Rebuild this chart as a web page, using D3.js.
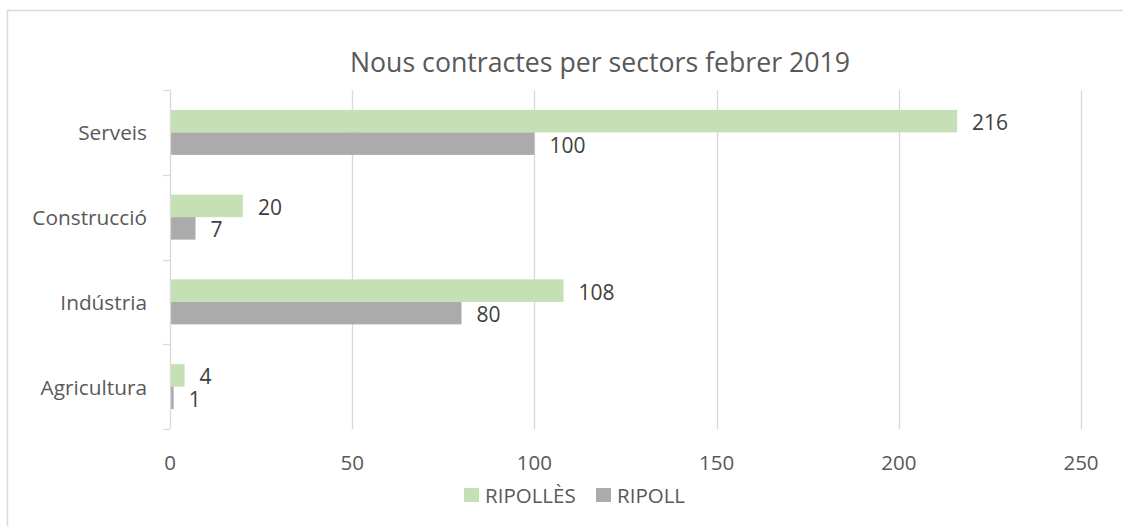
<!DOCTYPE html>
<html>
<head>
<meta charset="utf-8">
<script src="https://cdn.jsdelivr.net/npm/d3@7"></script>
<style>
  html, body { margin: 0; padding: 0; background: #fff; }
  svg { display: block; font-family: "Open Sans", "Noto Sans", sans-serif; }
</style>
</head>
<body>
<svg id="chart" width="1123" height="526"></svg>
<script>
const title = "Nous contractes per sectors febrer 2019";
const categories = ["Serveis", "Construcció", "Indústria", "Agricultura"];
const seriesNames = ["RIPOLLÈS", "RIPOLL"];
const ripolles = [216, 20, 108, 4];
const ripoll = [100, 7, 80, 1];
const xTicks = [0, 50, 100, 150, 200, 250];
const colors = ["#c5e0b4", "#ababab"];

const seriesValues = [ripolles, ripoll];
const svg = d3.select("#chart");

// outer frame
svg.append("rect")
  .attr("x", 7.5).attr("y", 10.5)
  .attr("width", 1130).attr("height", 530)
  .attr("fill", "#fff").attr("stroke", "#d9d9d9").attr("stroke-width", 1.5);

const plot = { left: 170, right: 1081, top: 90, bottom: 429 };

const x = d3.scaleLinear().domain([0, 250]).range([plot.left, plot.right]);
const pad = 1 - 45 / ((plot.bottom - plot.top) / categories.length);
const y = d3.scaleBand().domain(categories)
  .range([plot.top, plot.bottom]).paddingInner(pad).paddingOuter(pad / 2);
const yInner = d3.scaleBand().domain(seriesNames).range([0, y.bandwidth()]);

// gridlines
svg.append("g").selectAll("line")
  .data(xTicks.filter(d => d !== 0))
  .join("line")
  .attr("x1", d => Math.round(x(d)) + 0.5).attr("x2", d => Math.round(x(d)) + 0.5)
  .attr("y1", plot.top).attr("y2", plot.bottom)
  .attr("stroke", "#d9d9d9").attr("stroke-width", 1.3);

// x tick labels
svg.append("g").selectAll("text")
  .data(xTicks)
  .join("text")
  .attr("x", d => x(d)).attr("y", 470)
  .attr("text-anchor", "middle")
  .attr("font-size", 20.5)
  .attr("fill", "#595959")
  .text(d => d);

// bars
const step = y.step();
seriesNames.forEach((s, si) => {
  svg.append("g").selectAll("rect")
    .data(categories.map((c, i) => ({ c, v: seriesValues[si][i] })))
    .join("rect")
    .attr("x", x(0))
    .attr("y", d => y(d.c) + yInner(s))
    .attr("width", d => x(d.v) - x(0))
    .attr("height", yInner.bandwidth())
    .attr("fill", colors[si]);

  svg.append("g").selectAll("text")
    .data(categories.map((c, i) => ({ c, v: seriesValues[si][i] })))
    .join("text")
    .attr("x", d => x(d.v) + 15)
    .attr("y", d => y(d.c) + yInner(s) + yInner.bandwidth() / 2 + 9)
    .attr("font-size", 21)
    .attr("fill", "#404040")
    .text(d => d.v);
});

// vertical axis line and category ticks
svg.append("line")
  .attr("x1", plot.left + 0.5).attr("x2", plot.left + 0.5)
  .attr("y1", plot.top).attr("y2", plot.bottom)
  .attr("stroke", "#d9d9d9").attr("stroke-width", 1.3);
const boundaries = categories.map(c => y(c) - step * pad / 2).concat([plot.bottom]);
svg.append("g").selectAll("line")
  .data(boundaries)
  .join("line")
  .attr("x1", plot.left - 7).attr("x2", plot.left)
  .attr("y1", d => Math.round(d) + 0.5).attr("y2", d => Math.round(d) + 0.5)
  .attr("stroke", "#d9d9d9").attr("stroke-width", 1.3);

// category labels
svg.append("g").selectAll("text")
  .data(categories)
  .join("text")
  .attr("x", 147)
  .attr("y", d => y(d) + y.bandwidth() / 2 + 8)
  .attr("text-anchor", "end")
  .attr("font-size", 20.8)
  .attr("fill", "#595959")
  .text(d => d);

// title
svg.append("text")
  .attr("x", 600).attr("y", 72)
  .attr("text-anchor", "middle")
  .attr("font-size", 27.5)
  .attr("fill", "#595959")
  .attr("textLength", 500).attr("lengthAdjust", "spacingAndGlyphs")
  .text(title);

// legend
const legendX = [464, 596];
const legend = svg.append("g").selectAll("g")
  .data(seriesNames)
  .join("g")
  .attr("transform", (d, i) => `translate(${legendX[i]},488)`);
legend.append("rect")
  .attr("width", 15).attr("height", 14)
  .attr("fill", (d, i) => colors[i]);
legend.append("text")
  .attr("x", 21).attr("y", 14.5)
  .attr("font-size", 20.5)
  .attr("fill", "#595959")
  .text(d => d);
</script>
</body>
</html>
